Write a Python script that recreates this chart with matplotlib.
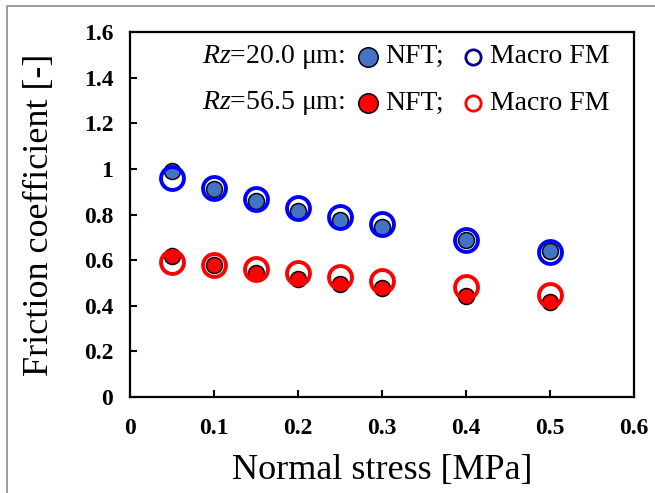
import matplotlib
matplotlib.use("Agg")
import matplotlib.pyplot as plt
from matplotlib.patches import Rectangle

plt.rcParams["font.family"] = ["Liberation Serif", "DejaVu Serif"]
plt.rcParams["mathtext.fontset"] = "custom"
plt.rcParams["mathtext.rm"] = "Liberation Serif"
plt.rcParams["mathtext.it"] = "Liberation Serif:italic"

# Data
stress = [0.05, 0.1, 0.15, 0.2, 0.25, 0.3, 0.4, 0.5]
nft_20 = [0.99, 0.91, 0.86, 0.815, 0.775, 0.745, 0.69, 0.64]
macro_20 = [0.96, 0.915, 0.87, 0.83, 0.79, 0.76, 0.69, 0.637]
nft_56 = [0.62, 0.58, 0.545, 0.516, 0.494, 0.477, 0.443, 0.416]
macro_56 = [0.59, 0.577, 0.56, 0.542, 0.525, 0.51, 0.484, 0.448]

xticks = [0, 0.1, 0.2, 0.3, 0.4, 0.5, 0.6]
xticklabels = ["0", "0.1", "0.2", "0.3", "0.4", "0.5", "0.6"]
yticks = [0, 0.2, 0.4, 0.6, 0.8, 1.0, 1.2, 1.4, 1.6]
yticklabels = ["0", "0.2", "0.4", "0.6", "0.8", "1", "1.2", "1.4", "1.6"]

BLUE_FILL = "#4472C4"
BLUE_RING = "#0000FF"
RED = "#FF0000"

fig = plt.figure(figsize=(6.55, 4.93), dpi=100)
ax = fig.add_axes([0.1985, 0.1947, 0.7695, 0.7403])

# Outer grey frame (cut off at right/bottom like the source image)
fig.patches.append(Rectangle((7 / 655, -0.1), 1.2, 1 - 6 / 493 + 0.1,
                             transform=fig.transFigure, fill=False,
                             edgecolor="#8c8c8c", linewidth=1.2))

nft_style = dict(linestyle="none", marker="o", markersize=11.5,
                 markeredgecolor="black", markeredgewidth=1.1)
ring_style = dict(linestyle="none", marker="o", markersize=16.5,
                  markerfacecolor="none", markeredgewidth=2.8)

ax.plot(stress, nft_20, markerfacecolor=BLUE_FILL, **nft_style)
ax.plot(stress, nft_56, markerfacecolor=RED, **nft_style)
ax.plot(stress, macro_20, markeredgecolor=BLUE_RING, **ring_style)
ax.plot(stress, macro_56, markeredgecolor=RED, **ring_style)

ax.set_xlim(0, 0.6)
ax.set_ylim(0, 1.6)
ax.set_xticks(xticks)
ax.set_xticklabels(xticklabels, fontsize=17, fontweight="bold")
ax.set_yticks(yticks)
ax.set_yticklabels(yticklabels, fontsize=17, fontweight="bold")
ax.tick_params(direction="in", length=5, width=1.5)
ax.tick_params(axis="y", pad=12)
ax.tick_params(axis="x", pad=15)
for sp in ax.spines.values():
    sp.set_linewidth(1.6)

ax.set_xlabel("Normal stress [MPa]", fontsize=26, labelpad=11)
ax.set_ylabel("Friction coefficient [-]", fontsize=26, labelpad=20)

# Hand-built legend
rows = [(0.932, r"$\mathit{Rz}$=20.0 μm:", BLUE_FILL, "#000099"),
        (0.805, r"$\mathit{Rz}$=56.5 μm:", RED, RED)]
for yy, label, fill, ring in rows:
    ax.text(0.143, yy, label, transform=ax.transAxes, fontsize=20,
            va="center", ha="left")
    ax.plot([0.472], [yy], transform=ax.transAxes, marker="o", markersize=14,
            markerfacecolor=fill, markeredgecolor="black",
            markeredgewidth=1.1, clip_on=False)
    ax.text(0.506, yy, "NFT;", transform=ax.transAxes, fontsize=20,
            va="center", ha="left")
    ax.plot([0.681], [yy], transform=ax.transAxes, marker="o", markersize=11,
            markerfacecolor="none", markeredgecolor=ring,
            markeredgewidth=2.0, clip_on=False)
    ax.text(0.714, yy, "Macro FM", transform=ax.transAxes, fontsize=20,
            va="center", ha="left")

fig.savefig("out.png", dpi=100)
